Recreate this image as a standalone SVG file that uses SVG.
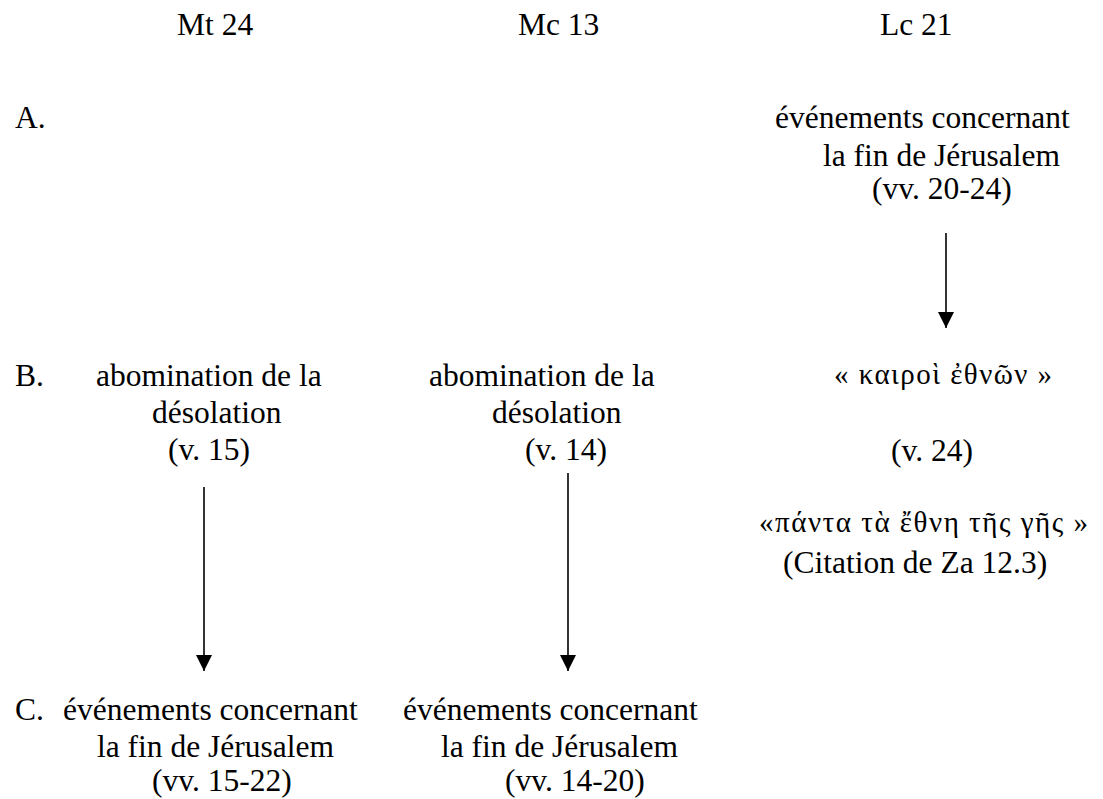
<svg xmlns="http://www.w3.org/2000/svg" width="1103" height="799" viewBox="0 0 1103 799">
<style>
text{font-family:"Liberation Serif","Times New Roman",serif;font-size:31.5px;fill:#000}
.gr{font-family:"Liberation Serif","DejaVu Serif",serif;font-size:29px}
.conn line{stroke:#000;stroke-width:1.6;fill:none}
</style>
<defs>
<marker id="ah" markerUnits="userSpaceOnUse" markerWidth="16" markerHeight="16" refX="16" refY="8" orient="auto">
<path d="M0,0 L16,8 L0,16 z" fill="#000"/>
</marker>
</defs>
<rect width="1103" height="799" fill="#fff"/>
<g id="headers">
<text x="177" y="35">Mt 24</text>
<text x="518" y="35">Mc 13</text>
<text x="880" y="35">Lc 21</text>
</g>
<g id="row-labels">
<text x="15" y="128">A.</text>
<text x="15" y="386">B.</text>
<text x="15" y="720">C.</text>
</g>
<g id="lc-a">
<text x="775" y="128">événements concernant</text>
<text x="823" y="166">la fin de Jérusalem</text>
<text x="872" y="199">(vv. 20-24)</text>
</g>
<g id="mt-b">
<text x="96" y="386">abomination de la</text>
<text x="152" y="423">désolation</text>
<text x="168" y="460">(v. 15)</text>
</g>
<g id="mc-b">
<text x="429" y="386">abomination de la</text>
<text x="492" y="423">désolation</text>
<text x="525" y="460">(v. 14)</text>
</g>
<g id="lc-b">
<text class="gr" x="834" y="384" textLength="218" lengthAdjust="spacing">« καιροὶ ἐθνῶν »</text>
<text x="891" y="461">(v. 24)</text>
<text class="gr" x="759" y="532" textLength="329" lengthAdjust="spacing">«πάντα τὰ ἔθνη τῆς γῆς »</text>
<text x="783" y="573">(Citation de Za 12.3)</text>
</g>
<g id="mt-c">
<text x="63" y="720">événements concernant</text>
<text x="97" y="757">la fin de Jérusalem</text>
<text x="152" y="791">(vv. 15-22)</text>
</g>
<g id="mc-c">
<text x="403" y="720">événements concernant</text>
<text x="441" y="757">la fin de Jérusalem</text>
<text x="505" y="791">(vv. 14-20)</text>
</g>
<g id="connectors" class="conn">
<line x1="204" y1="487" x2="204" y2="671" marker-end="url(#ah)"/>
<line x1="568" y1="473" x2="568" y2="671" marker-end="url(#ah)"/>
<line x1="946" y1="233" x2="946" y2="328" marker-end="url(#ah)"/>
</g>
</svg>
